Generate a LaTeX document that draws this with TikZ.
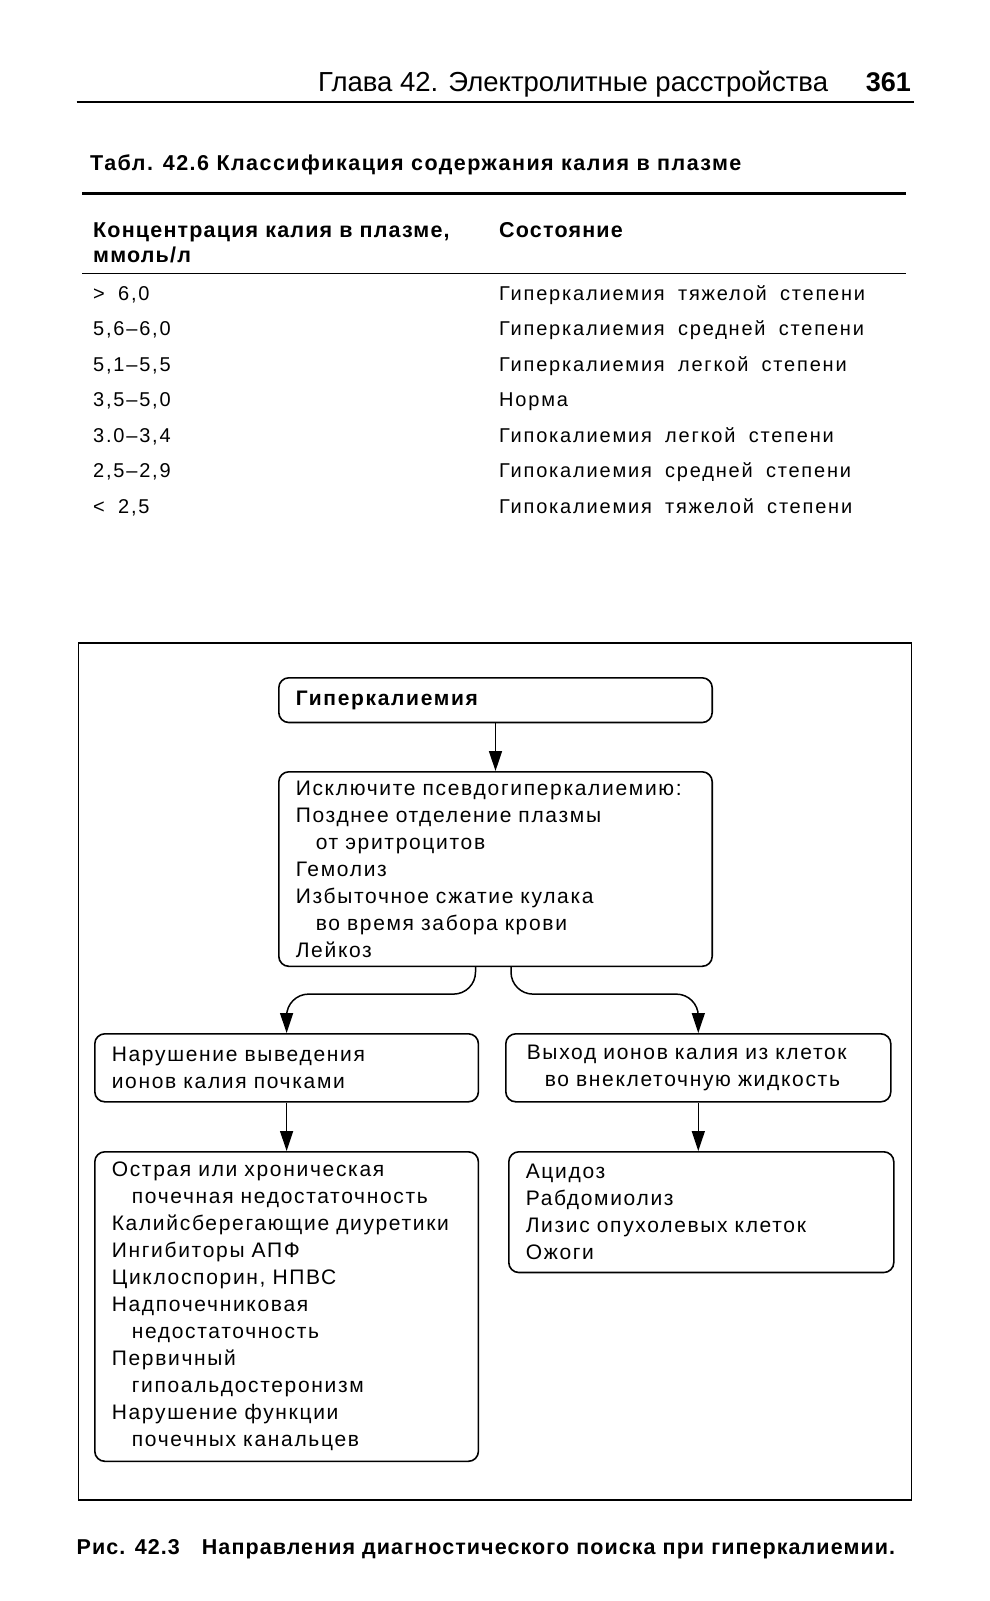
\documentclass[tikz,border=0pt]{standalone}
\usepackage{fontspec}
\setmainfont{Liberation Sans}[LetterSpace=8]
\newfontfamily\tabfont{Liberation Sans}[LetterSpace=9, WordSpace=1.8]
\newfontfamily\capfont{Liberation Sans}[LetterSpace=5.5]
\newfontfamily\titlefont{Liberation Sans}[LetterSpace=6.8]
\newfontfamily\figcapfont{Liberation Sans}[LetterSpace=5]
\newfontfamily\headfont{Liberation Sans}
\usetikzlibrary{arrows.meta}
\begin{document}
\begin{tikzpicture}[x=1pt,y=-1pt,
  box/.style={draw, line width=1.6pt, rounded corners=10pt, inner xsep=17pt, inner ysep=0pt,
    align=left, anchor=north west, font=\fontsize{21}{27}\selectfont},
  arr/.style={line width=1.5pt, -{Triangle[length=20pt,width=13pt]}},
  bodyb/.style={anchor=base west, inner sep=0pt, font=\capfont\fontsize{21.5}{27}\selectfont\bfseries},
  tab/.style={anchor=base west, inner sep=0pt, font=\tabfont\fontsize{20}{27}\selectfont}
]
\useasboundingbox (0,0) rectangle (990,1601);
% page header
\node[anchor=base west, inner sep=0pt, font=\headfont\fontsize{27.5}{30}\selectfont] (hd) at (318,91) {Глава 42. Электролитные расстройства};
\node[anchor=base east, inner sep=0pt, font=\headfont\fontsize{27}{30}\selectfont\bfseries] (pg) at (911,91) {361};
\draw[line width=2.2pt] (76.5,102) -- (913.5,102);
% table
\node[bodyb, font=\titlefont\fontsize{21.5}{27}\selectfont\bfseries] (tt) at (90,170.5) {Табл. 42.6 Классификация содержания калия в плазме};
\draw[line width=3pt] (82,193) -- (906,193);
\node[bodyb] (th1) at (93,237) {Концентрация калия в плазме,};
\node[bodyb] (th1b) at (93,262.5) {ммоль/л};
\node[bodyb] (th2) at (499,237) {Состояние};
\draw[line width=1.4pt] (82,273.5) -- (906,273.5);
\foreach \i/\a/\b in {0/{> 6,0}/{Гиперкалиемия тяжелой степени},
                      1/{5,6–6,0}/{Гиперкалиемия средней степени},
                      2/{5,1–5,5}/{Гиперкалиемия легкой степени},
                      3/{3,5–5,0}/Норма,
                      4/{3.0–3,4}/{Гипокалиемия легкой степени},
                      5/{2,5–2,9}/{Гипокалиемия средней степени},
                      6/{< 2,5}/{Гипокалиемия тяжелой степени}}{
  \node[tab] (ra\i) at (93,300+35.5*\i) {\a};
  \node[tab] (rb\i) at (499,300+35.5*\i) {\b};
}
% figure frame
\draw[line width=1.3pt] (78.6,643) rectangle (911.4,1500);
% boxes
\node[box, minimum width=433.4pt, minimum height=44.7pt, text width=399.4pt] (b1) at (278,677)
  {\bfseries Гиперкалиемия};
\node[box, minimum width=433.4pt, minimum height=194.5pt, text width=399.4pt] (b2) at (278,771)
  {Исключите псевдогиперкалиемию:\\
   Позднее отделение плазмы\\
   \hspace*{20pt}от эритроцитов\\
   Гемолиз\\
   Избыточное сжатие кулака\\
   \hspace*{20pt}во время забора крови\\
   Лейкоз};
\node[box, minimum width=383.6pt, minimum height=68pt, text width=349.6pt] (b3l) at (94,1033)
  {Нарушение выведения\\ионов калия почками};
\node[box, minimum width=385pt, minimum height=68pt, inner xsep=21pt, text width=343pt] (b3r) at (505,1033)
  {Выход ионов калия из клеток\\\hspace*{18pt}во внеклеточную жидкость};
\node[box, minimum width=383.6pt, minimum height=309.5pt, text width=349.6pt] (b4l) at (94,1151)
  {Острая или хроническая\\
   \hspace*{20pt}почечная недостаточность\\
   Калийсберегающие диуретики\\
   Ингибиторы АПФ\\
   Циклоспорин, НПВС\\
   Надпочечниковая\\
   \hspace*{20pt}недостаточность\\
   Первичный\\
   \hspace*{20pt}гипоальдостеронизм\\
   Нарушение функции\\
   \hspace*{20pt}почечных канальцев};
\node[box, minimum width=385pt, minimum height=120.7pt, text width=351pt] (b4r) at (508,1151)
  {Ацидоз\\Рабдомиолиз\\Лизис опухолевых клеток\\Ожоги};
% connectors
\draw[arr] (b1.south) -- (b2.north);
\draw[arr, rounded corners=22pt] ([xshift=-20pt]b2.south) -- ++(0,27) -| (b3l.north);
\draw[arr, rounded corners=22pt] ([xshift=15.5pt]b2.south) -- ++(0,27) -| (b3r.north);
\draw[arr] (b3l.south) -- (b4l.north);
\draw[arr] (b3r.south) -- (b3r.south |- b4r.north);
% caption
\node[bodyb, font=\figcapfont\fontsize{21.5}{27}\selectfont\bfseries] (cap) at (76.5,1554)
  {Рис. 42.3\hspace{22pt}Направления диагностического поиска при гиперкалиемии.};
\end{tikzpicture}
\end{document}
